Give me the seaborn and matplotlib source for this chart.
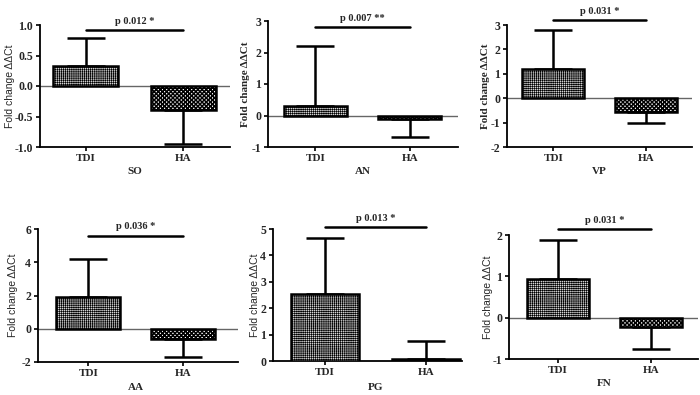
import matplotlib
matplotlib.use("Agg")
import matplotlib.pyplot as plt
import seaborn as sns
import pandas as pd
import numpy as np

sns.set_theme(style="white")
plt.rcParams['axes.unicode_minus'] = False
plt.rcParams['hatch.linewidth'] = 0.5

groups = ["TDI", "HA"]
genes = ["SO", "AN", "VP", "AA", "PG", "FN"]
means = {
    "SO": [0.33, -0.39],
    "AN": [0.29, -0.10],
    "VP": [1.20, -0.55],
    "AA": [1.93, -0.62],
    "PG": [2.55, 0.07],
    "FN": [0.94, -0.23],
}
errors = {
    "SO": [0.46, 0.56],
    "AN": [1.91, 0.59],
    "VP": [1.58, 0.48],
    "AA": [2.24, 1.06],
    "PG": [2.10, 0.69],
    "FN": [0.93, 0.53],
}
sig_y = {"SO": 0.92, "AN": 2.81, "VP": 3.2, "AA": 5.6, "PG": 5.07, "FN": 2.15}
p_text = {"SO": "p 0.012 *", "AN": "p 0.007 **", "VP": "p 0.031 *",
          "AA": "p 0.036 *", "PG": "p 0.013 *", "FN": "p 0.031 *"}
ylims = {"SO": (-1, 1), "AN": (-1, 3), "VP": (-2, 3), "AA": (-2, 6), "PG": (0, 5), "FN": (-1, 2)}
ystep = {"SO": 0.5, "AN": 1, "VP": 1, "AA": 2, "PG": 1, "FN": 1}
serif_ylabel = {"AN", "VP"}

W, H = 700, 395
# axes boxes in pixels: left, top, right, bottom
boxes = {
    "SO": (40, 25, 230, 147),
    "AN": (268, 21, 458, 147),
    "VP": (507, 25, 692, 147),
    "AA": (38, 229, 238, 362),
    "PG": (273, 229, 462, 361),
    "FN": (509, 235, 698, 359),
}
xlims = {"SO": (-0.47, 1.48), "AN": (-0.5, 1.51), "VP": (-0.5, 1.5),
         "AA": (-0.53, 1.58), "PG": (-0.51, 1.35), "FN": (-0.53, 1.51)}
xlab_y = {"SO": 172, "AN": 172, "VP": 172, "AA": 388, "PG": 387, "FN": 384}
ylab_off = {"SO": -30, "AN": -23, "VP": -22, "AA": -25, "PG": -18, "FN": -21}

fig = plt.figure(figsize=(W / 100, H / 100), dpi=100)
serif = "Liberation Serif"
sans = "Liberation Sans"

for g in genes:
    l, t, r, b = boxes[g]
    ax = fig.add_axes([l / W, 1 - b / H, (r - l) / W, (b - t) / H])
    df = pd.DataFrame({"group": groups, "value": means[g]})
    sns.barplot(data=df, x="group", y="value", ax=ax, width=0.67, errorbar=None,
                color="white", edgecolor="black", linewidth=1.8, zorder=3)
    for i, p in enumerate(ax.patches):
        if i == 0:
            p.set_facecolor("#d4d4d4")
            p.set_hatch("++++++++")
            if hasattr(p, "set_hatch_linewidth"):
                p.set_hatch_linewidth(0.45)
        else:
            p.set_facecolor("white")
            p.set_hatch("xxxxxxxx")
            if hasattr(p, "set_hatch_linewidth"):
                p.set_hatch_linewidth(1.1)
    m = np.array(means[g])
    e = np.array(errors[g])
    lower = np.where(m < 0, e, 0)
    upper = np.where(m >= 0, e, 0)
    ax.errorbar([0, 1], m, yerr=[lower, upper], fmt="none", ecolor="black",
                elinewidth=1.8, capsize=14, capthick=1.8, zorder=2)
    lo, hi = ylims[g]
    ax.set_ylim(lo, hi)
    ax.set_xlim(*xlims[g])
    ticks = np.arange(lo, hi + 1e-9, ystep[g])
    ax.set_yticks(ticks)
    if g == "SO":
        ax.set_yticklabels([f"{v:.1f}" for v in ticks])
    else:
        ax.set_yticklabels([f"{int(v)}" for v in ticks])
    if lo < 0:
        ax.axhline(0, color="#666666", lw=1.0, zorder=1)
    for s in ["top", "right"]:
        ax.spines[s].set_visible(False)
    for s in ["left", "bottom"]:
        ax.spines[s].set_color("black")
        ax.spines[s].set_linewidth(1.3)
    ax.tick_params(axis="both", which="major", direction="out", length=3, width=1.2,
                   color="black", left=True, bottom=True, pad=2)
    for lab in ax.get_yticklabels():
        lab.set_fontfamily(serif)
        lab.set_fontweight("bold")
        lab.set_fontsize(8.5)
    for lab in ax.get_xticklabels():
        lab.set_fontfamily(serif)
        lab.set_fontweight("bold")
        lab.set_fontsize(8)
    ax.set_xlabel("")
    if g in serif_ylabel:
        ax.set_ylabel("Fold change ΔΔCt", fontfamily=serif, fontweight="bold",
                      fontsize=8)
    else:
        ax.set_ylabel("Fold change ΔΔCt", fontfamily=sans, fontsize=7.5)
    ax.yaxis.set_label_coords((ylab_off[g] + 5) / (r - l), 0.5)
    # significance bar
    ax.plot([0, 1], [sig_y[g], sig_y[g]], color="black", lw=1.8, clip_on=False, zorder=4)
    ax.annotate(p_text[g], xy=(0.5, sig_y[g]), xytext=(0, 3), textcoords="offset points",
                ha="center", va="bottom", fontfamily=serif, fontweight="bold",
                fontsize=7.5, annotation_clip=False)
    # category label under axis
    xc = ax.transData.transform((0.5, 0))[0] / W
    fig.text(xc, 1 - xlab_y[g] / H, g, ha="center", va="center", fontfamily=serif,
             fontweight="bold", fontsize=8)

fig.savefig("out.png", dpi=100, facecolor="white")
